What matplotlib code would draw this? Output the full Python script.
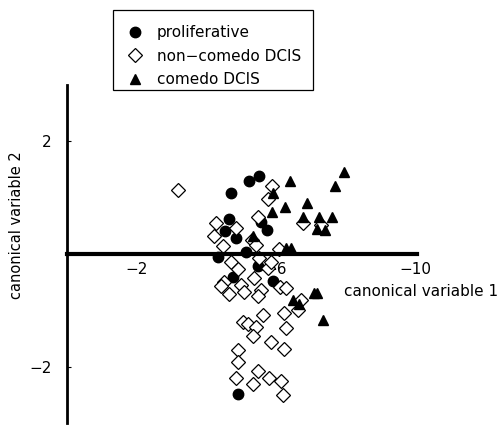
import matplotlib
matplotlib.use("Agg")
import matplotlib.pyplot as plt
from matplotlib.patches import Rectangle

# values (canonical variable 1, canonical variable 2)
prolif_x = [-5.51, -5.23, -4.71, -4.66, -4.54, -4.86, -5.57, -5.74, -4.34, -5.14,
            -5.49, -4.77, -5.91, -4.91]
prolif_y = [1.38, 1.29, 1.09, 0.63, 0.41, 0.29, 0.57, 0.43, -0.05, 0.04,
            -0.21, -0.41, -0.48, -2.48]

noncomedo_x = [-3.20, -5.89, -5.77, -4.29, -4.86, -4.23, -4.49, -5.49, -5.31, -5.43,
               -6.09, -4.71, -4.91, -5.51, -5.77, -5.86, -5.37, -4.51, -4.43, -5.00,
               -4.66, -5.09, -5.57, -5.49, -6.11, -6.29, -6.74, -5.63, -6.23, -5.06,
               -5.20, -5.43, -5.34, -6.29, -5.86, -6.23, -4.91, -4.91, -4.86, -5.49,
               -5.34, -5.80, -6.14, -6.20, -6.77, -7.29, -6.63]
noncomedo_y = [1.14, 1.21, 0.98, 0.55, 0.46, 0.32, 0.14, 0.66, 0.25, 0.16,
               0.09, -0.14, -0.27, -0.07, -0.25, -0.14, -0.43, -0.50, -0.57, -0.55,
               -0.71, -0.68, -0.64, -0.75, -0.59, -0.61, -0.82, -1.09, -1.05, -1.21,
               -1.25, -1.29, -1.45, -1.32, -1.57, -1.68, -1.71, -1.91, -2.21, -2.07,
               -2.30, -2.21, -2.25, -2.50, 0.55, 0.52, -1.00]

comedo_x = [-6.40, -7.97, -7.71, -5.91, -5.89, -6.26, -6.91, -6.77, -7.23, -7.63,
            -7.20, -7.43, -5.34, -6.29, -6.43, -6.51, -6.66, -7.09, -7.20, -7.37]
comedo_y = [1.29, 1.45, 1.20, 1.09, 0.75, 0.84, 0.91, 0.66, 0.66, 0.66,
            0.45, 0.43, 0.32, 0.11, 0.11, -0.82, -0.88, -0.70, -0.70, -1.18]

xticks = [-2, -6, -10]
yticks = [2, -2]

W, H = 502, 426
fig = plt.figure(figsize=(W/100, H/100), dpi=100)
ax = fig.add_axes([67/W, 1-423/H, 350/W, 338/H])

ax.plot(prolif_x, prolif_y, 'o', color='black', markersize=7.5, label='proliferative')
ax.plot(noncomedo_x, noncomedo_y, 'D', markerfacecolor='white', markeredgecolor='black',
        markeredgewidth=0.9, markersize=7, label='non\u2212comedo DCIS')
ax.plot(comedo_x, comedo_y, '^', color='black', markersize=7.5, label='comedo DCIS')

ax.set_xlim(0, -10.06)
ax.set_ylim(-3, 3)

ax.spines['top'].set_visible(False)
ax.spines['right'].set_visible(False)
ax.spines['bottom'].set_position(('data', 0))
ax.spines['bottom'].set_linewidth(3)
ax.spines['left'].set_linewidth(2)

ax.set_xticks(xticks)
ax.set_yticks(yticks)
ax.tick_params(axis='x', length=0, pad=6, labelsize=11)
ax.tick_params(axis='y', direction='in', length=3, pad=11, labelsize=11)

ax.set_xlabel('canonical variable 1', fontsize=11)
ax.xaxis.set_label_coords(1.011, 0.39)
ax.xaxis.label.set_va('center')
ax.set_ylabel('canonical variable 2', fontsize=10.5)
ax.yaxis.set_label_coords(-0.143, 0.586)
ax.yaxis.label.set_va('center')

# legend entries without frame, box drawn separately to match the reference
leg = ax.legend(loc='upper left', bbox_to_anchor=(127/W, 1-25/H),
                bbox_transform=fig.transFigure, fontsize=11, frameon=False,
                borderaxespad=0, borderpad=0, handlelength=1.0,
                handletextpad=0.95, labelspacing=0.56)
fig.patches.append(Rectangle((113/W, 1-90/H), 200/W, 80/H, transform=fig.transFigure,
                             fill=False, edgecolor='black', linewidth=0.9))

fig.savefig('out.png', dpi=100)
